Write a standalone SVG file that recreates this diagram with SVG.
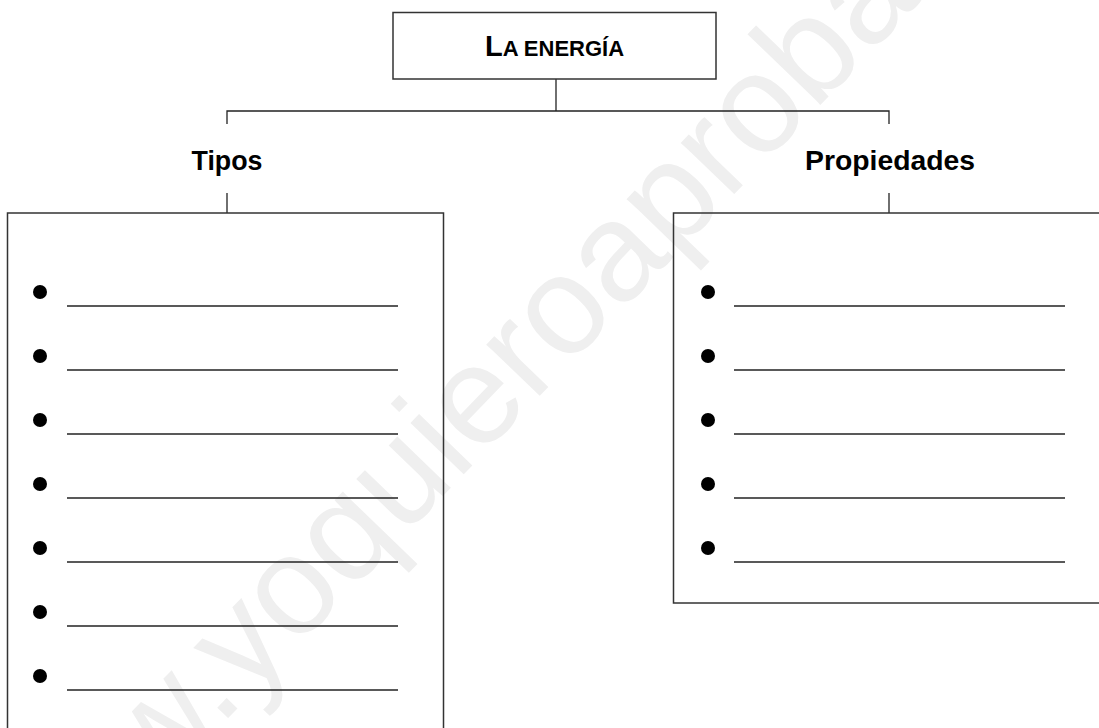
<svg xmlns="http://www.w3.org/2000/svg" width="1099" height="728" viewBox="0 0 1099 728">
<style>
.wm{font-family:"Liberation Sans",Arial,sans-serif;font-size:140px;fill:#efefef}
.box{fill:none;stroke:#333;stroke-width:1.5}
.conn{fill:none;stroke:#222;stroke-width:1.3}
.rule{stroke:#222;stroke-width:1.5}
.dot{fill:#000}
.head{font-family:"Liberation Sans",Arial,sans-serif;font-weight:bold;font-size:28px;fill:#000}
.title{font-family:"Liberation Sans",Arial,sans-serif;font-weight:bold;fill:#000}
</style>
<rect x="0" y="0" width="1099" height="728" fill="#fff"/>
<text class="wm" x="14" y="940" transform="rotate(-46 14 940)">www.yoquieroaprobar.es</text>
<g id="connectors">
<path class="conn" d="M556 79 V111"/>
<path class="conn" d="M227 124 V111 H889 V124"/>
<path class="conn" d="M227 193 V213"/>
<path class="conn" d="M889 193 V213"/>
</g>
<g id="title">
<rect class="box" x="393" y="12.5" width="323" height="66.5" fill="#fff"/>
<text class="title" x="554.5" y="56" text-anchor="middle"><tspan font-size="29">L</tspan><tspan font-size="22">A ENERGÍA</tspan></text>
</g>
<g id="tipos-label">
<text class="head" x="227" y="170" text-anchor="middle" textLength="71" lengthAdjust="spacingAndGlyphs">Tipos</text>
</g>
<g id="propiedades-label">
<text class="head" x="890" y="170" text-anchor="middle" textLength="170" lengthAdjust="spacingAndGlyphs">Propiedades</text>
</g>
<g id="tipos-box">
<rect class="box" x="7.5" y="213" width="436" height="540"/>
<circle class="dot" cx="40" cy="292" r="7"/><line class="rule" x1="67" y1="306" x2="398" y2="306"/>
<circle class="dot" cx="40" cy="356" r="7"/><line class="rule" x1="67" y1="370" x2="398" y2="370"/>
<circle class="dot" cx="40" cy="420" r="7"/><line class="rule" x1="67" y1="434" x2="398" y2="434"/>
<circle class="dot" cx="40" cy="484" r="7"/><line class="rule" x1="67" y1="498" x2="398" y2="498"/>
<circle class="dot" cx="40" cy="548" r="7"/><line class="rule" x1="67" y1="562" x2="398" y2="562"/>
<circle class="dot" cx="40" cy="612" r="7"/><line class="rule" x1="67" y1="626" x2="398" y2="626"/>
<circle class="dot" cx="40" cy="676" r="7"/><line class="rule" x1="67" y1="690" x2="398" y2="690"/>
</g>
<g id="propiedades-box">
<rect class="box" x="673.5" y="213" width="440" height="390"/>
<circle class="dot" cx="708" cy="292" r="7"/><line class="rule" x1="734" y1="306" x2="1065" y2="306"/>
<circle class="dot" cx="708" cy="356" r="7"/><line class="rule" x1="734" y1="370" x2="1065" y2="370"/>
<circle class="dot" cx="708" cy="420" r="7"/><line class="rule" x1="734" y1="434" x2="1065" y2="434"/>
<circle class="dot" cx="708" cy="484" r="7"/><line class="rule" x1="734" y1="498" x2="1065" y2="498"/>
<circle class="dot" cx="708" cy="548" r="7"/><line class="rule" x1="734" y1="562" x2="1065" y2="562"/>
</g>
</svg>
